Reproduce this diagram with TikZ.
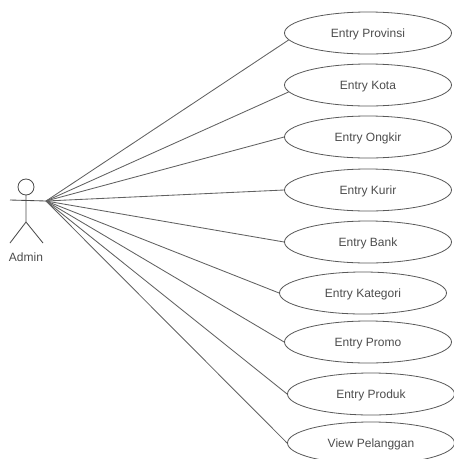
\documentclass[tikz,border=0pt]{standalone}
\usepackage{fontspec}
\setmainfont{Liberation Sans}
\usetikzlibrary{shapes.geometric}
\tikzset{
  uc/.style={draw=black!65,line width=0.8pt,ellipse,minimum width=167pt,minimum height=42pt,inner sep=0pt,font=\fontsize{12}{14}\selectfont,text=black!70,text height=8.4pt,text depth=0pt},
  lnk/.style={draw=black!62,line width=0.85pt},
  stick/.style={draw=black!70,line width=0.85pt}
}
\begin{document}
\begin{tikzpicture}[x=1pt,y=-1pt]
\useasboundingbox (0,0) rectangle (454,459);
\coordinate (hand) at (46,201);
\node[uc] (a) at (368,33) {Entry Provinsi};
\node[uc] (b) at (368,85) {Entry Kota};
\node[uc] (c) at (368,137) {Entry Ongkir};
\node[uc] (d) at (368,190) {Entry Kurir};
\node[uc] (e) at (368,242) {Entry Bank};
\node[uc] (f) at (363,293) {Entry Kategori};
\node[uc] (g) at (368,342) {Entry Promo};
\node[uc] (h) at (371,394) {Entry Produk};
\node[uc] (i) at (371,443) {View Pelanggan};
\draw[lnk] (hand) -- (a.185);
\draw[lnk] (hand) -- (b.185);
\foreach \n in {c,d,e,f,g,h,i} \draw[lnk] (hand) -- (\n.west);
\coordinate (neck) at (26,195);
\coordinate (hip) at (26,222);
\coordinate (armL) at (10,200);
\coordinate (footL) at (10,243);
\coordinate (footR) at (43,243);
\draw[stick] (26,187) circle (8);
\draw[stick] (neck) -- (hip) (armL) -- (hand) (footL) -- (hip) -- (footR);
\node[font=\fontsize{12}{14}\selectfont,text=black!70,text height=8.4pt,text depth=0pt] (admin) at (26,257) {Admin};
\end{tikzpicture}
\end{document}
